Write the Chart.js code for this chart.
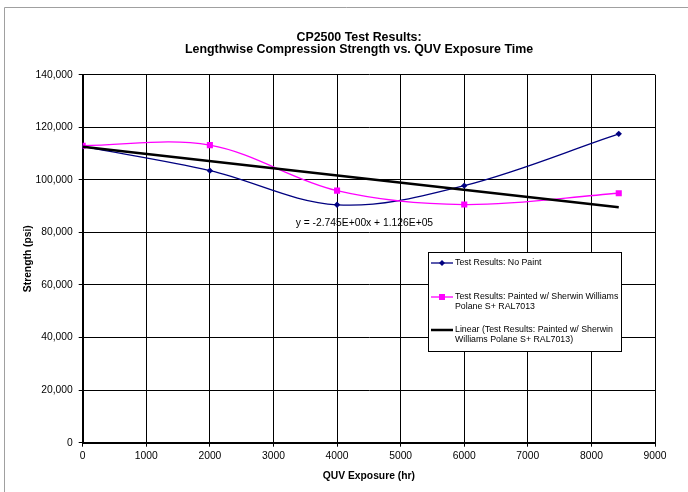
<!DOCTYPE html>
<html>
<head>
<meta charset="utf-8">
<script src="https://cdn.jsdelivr.net/npm/chart.js@4.4.0/dist/chart.umd.min.js"></script>
<style>
html, body { margin: 0; padding: 0; background: #fff; }
canvas { display: block; }
</style>
</head>
<body>
<canvas id="c" width="688" height="492"></canvas>
<script>
// ---- data ----
const hours = [0, 2000, 4000, 6000, 8430];
const noPaint = [112700, 103500, 90500, 97800, 117500];
const painted = [113000, 113200, 95900, 90600, 94900];
const trendHours = [0, 8430];
const trendStrength = [112600, 89600];
const xTicks = [0, 1000, 2000, 3000, 4000, 5000, 6000, 7000, 8000, 9000];
const yTicks = [0, 20000, 40000, 60000, 80000, 100000, 120000, 140000];
const titleLines = ['CP2500 Test Results:', 'Lengthwise Compression Strength vs. QUV Exposure Time'];
const xTitle = 'QUV Exposure (hr)';
const yTitle = 'Strength (psi)';
const equationText = 'y = -2.745E+00x + 1.126E+05';
const legendNoPaint = ['Test Results: No Paint'];
const legendPainted = ['Test Results: Painted w/ Sherwin Williams', 'Polane S+ RAL7013'];
const legendTrend = ['Linear (Test Results: Painted w/ Sherwin', 'Williams Polane S+ RAL7013)'];

const FONT = "'Liberation Sans', Arial, Helvetica, sans-serif";
const NAVY = '#000080';
const MAGENTA = '#FF00FF';

function drawMarker(ctx, style, x, y, r, color) {
  ctx.save();
  ctx.fillStyle = color;
  ctx.beginPath();
  if (style === 'diamond') {
    ctx.moveTo(x, y - r); ctx.lineTo(x + r, y); ctx.lineTo(x, y + r); ctx.lineTo(x - r, y);
    ctx.closePath();
  } else {
    ctx.rect(x - r, y - r, 2 * r, 2 * r);
  }
  ctx.fill();
  ctx.restore();
}

const decor = {
  id: 'decor',
  beforeDraw(chart) {
    const ctx = chart.ctx;
    ctx.save();
    ctx.fillStyle = '#fff';
    ctx.fillRect(0, 0, chart.width, chart.height);
    ctx.strokeStyle = '#a0a0a0';
    ctx.lineWidth = 1;
    ctx.beginPath();
    ctx.moveTo(4.5, chart.height);
    ctx.lineTo(4.5, 7.5);
    ctx.lineTo(chart.width, 7.5);
    ctx.stroke();
    ctx.restore();
  },
  afterDraw(chart) {
    const ctx = chart.ctx;
    const xs = chart.scales.x, ys = chart.scales.y;
    ctx.save();
    // title
    ctx.fillStyle = '#000';
    ctx.textAlign = 'center';
    ctx.textBaseline = 'middle';
    ctx.font = 'bold 12.4px ' + FONT;
    ctx.fillText(titleLines[0], 359, 38);
    ctx.fillText(titleLines[1], 359, 50);
    // trendline equation
    ctx.font = '10.3px ' + FONT;
    ctx.fillText(equationText, xs.getPixelForValue(4430), ys.getPixelForValue(83700));
    // legend
    const bx = 428.5, by = 252.5, bw = 193, bh = 99;
    ctx.fillStyle = '#fff';
    ctx.fillRect(bx, by, bw, bh);
    ctx.strokeStyle = '#000';
    ctx.lineWidth = 1;
    ctx.strokeRect(bx, by, bw, bh);
    const entries = [
      { lines: legendNoPaint, y: 263, color: NAVY, width: 1.3, marker: 'diamond', r: 3 },
      { lines: legendPainted, y: 297, color: MAGENTA, width: 1.3, marker: 'square', r: 3 },
      { lines: legendTrend, y: 330, color: '#000', width: 2.5, marker: null }
    ];
    ctx.font = '8.8px ' + FONT;
    ctx.textAlign = 'left';
    entries.forEach(e => {
      ctx.strokeStyle = e.color;
      ctx.lineWidth = e.width;
      ctx.beginPath();
      ctx.moveTo(431, e.y);
      ctx.lineTo(453, e.y);
      ctx.stroke();
      if (e.marker) drawMarker(ctx, e.marker, 442, e.y, e.r, e.color);
      ctx.fillStyle = '#000';
      e.lines.forEach((t, i) => ctx.fillText(t, 455, e.y + i * 10));
    });
    ctx.restore();
  }
};

const tickFont = { family: FONT, size: 10.3 };
const titleFont = { family: FONT, size: 10.3, weight: 'bold' };

new Chart(document.getElementById('c'), {
  type: 'line',
  data: {
    datasets: [
      {
        label: legendNoPaint.join(' '),
        data: hours.map((h, i) => ({ x: h, y: noPaint[i] })),
        borderColor: NAVY, backgroundColor: NAVY,
        borderWidth: 1.3, pointStyle: 'rectRot', pointRadius: 3.2, pointBorderWidth: 0,
        tension: 0.35, fill: false, order: 2
      },
      {
        label: legendPainted.join(' '),
        data: hours.map((h, i) => ({ x: h, y: painted[i] })),
        borderColor: MAGENTA, backgroundColor: MAGENTA,
        borderWidth: 1.3, pointStyle: 'rect', pointRadius: 4.3, pointBorderWidth: 0,
        tension: 0.35, fill: false, order: 1
      },
      {
        label: legendTrend.join(' '),
        data: trendHours.map((h, i) => ({ x: h, y: trendStrength[i] })),
        borderColor: '#000', backgroundColor: '#000',
        borderWidth: 2.5, pointRadius: 0, tension: 0, fill: false, order: 0
      }
    ]
  },
  options: {
    responsive: false,
    animation: false,
    events: [],
    layout: { padding: { left: 0, top: 74.7, right: 33, bottom: 0 } },
    plugins: {
      legend: { display: false },
      title: { display: false },
      tooltip: { enabled: false }
    },
    scales: {
      x: {
        type: 'linear', position: 'bottom', min: 0, max: 9000,
        afterBuildTicks(s) { s.ticks = xTicks.map(v => ({ value: v })); },
        afterFit(s) { s.height = 49.3; },
        ticks: { font: tickFont, color: '#000', padding: 3, maxRotation: 0, autoSkip: false,
                 callback: v => String(v) },
        grid: { color: '#000', lineWidth: 1, tickLength: 4, drawTicks: true },
        border: { color: '#000', width: 2 },
        title: { display: true, text: xTitle, font: titleFont, color: '#000', padding: { top: 0, bottom: 9.5 } }
      },
      y: {
        type: 'linear', position: 'left', min: 0, max: 140000,
        afterBuildTicks(s) { s.ticks = yTicks.map(v => ({ value: v })); },
        afterFit(s) { s.width = 82.7; },
        ticks: { font: tickFont, color: '#000', padding: 6, autoSkip: false,
                 callback: v => v.toLocaleString('en-US') },
        grid: { color: '#000', lineWidth: 1, tickLength: 4, drawTicks: true },
        border: { color: '#000', width: 2 },
        title: { display: true, text: yTitle, font: titleFont, color: '#000', padding: { top: 21.8, bottom: 0 } }
      }
    }
  },
  plugins: [decor]
});
</script>
</body>
</html>
